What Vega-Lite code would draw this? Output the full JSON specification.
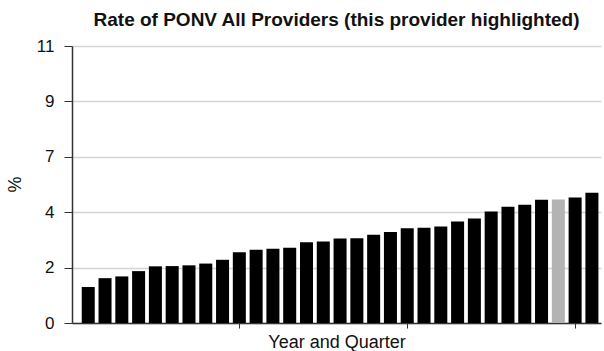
{
  "$schema": "https://vega.github.io/schema/vega-lite/v6.json",
  "autosize": {"type": "none"},
  "padding": {"left": 72, "top": 46, "right": 3, "bottom": 28},
  "width": 529,
  "height": 277,
  "background": "white",
  "title": {
    "text": "Rate of PONV All Providers (this provider highlighted)",
    "font": "Liberation Sans",
    "fontSize": 19,
    "fontWeight": "bold",
    "color": "#111111",
    "anchor": "middle",
    "frame": "group",
    "baseline": "alphabetic",
    "offset": 16,
    "dy": 24
  },
  "data": {
    "values": [
      {"period": 1, "rate": 1.43, "group": "Other providers"},
      {"period": 2, "rate": 1.78, "group": "Other providers"},
      {"period": 3, "rate": 1.85, "group": "Other providers"},
      {"period": 4, "rate": 2.06, "group": "Other providers"},
      {"period": 5, "rate": 2.25, "group": "Other providers"},
      {"period": 6, "rate": 2.26, "group": "Other providers"},
      {"period": 7, "rate": 2.29, "group": "Other providers"},
      {"period": 8, "rate": 2.36, "group": "Other providers"},
      {"period": 9, "rate": 2.51, "group": "Other providers"},
      {"period": 10, "rate": 2.81, "group": "Other providers"},
      {"period": 11, "rate": 2.91, "group": "Other providers"},
      {"period": 12, "rate": 2.95, "group": "Other providers"},
      {"period": 13, "rate": 2.99, "group": "Other providers"},
      {"period": 14, "rate": 3.21, "group": "Other providers"},
      {"period": 15, "rate": 3.24, "group": "Other providers"},
      {"period": 16, "rate": 3.36, "group": "Other providers"},
      {"period": 17, "rate": 3.37, "group": "Other providers"},
      {"period": 18, "rate": 3.5, "group": "Other providers"},
      {"period": 19, "rate": 3.61, "group": "Other providers"},
      {"period": 20, "rate": 3.76, "group": "Other providers"},
      {"period": 21, "rate": 3.78, "group": "Other providers"},
      {"period": 22, "rate": 3.83, "group": "Other providers"},
      {"period": 23, "rate": 4.03, "group": "Other providers"},
      {"period": 24, "rate": 4.15, "group": "Other providers"},
      {"period": 25, "rate": 4.43, "group": "Other providers"},
      {"period": 26, "rate": 4.62, "group": "Other providers"},
      {"period": 27, "rate": 4.7, "group": "Other providers"},
      {"period": 28, "rate": 4.89, "group": "Other providers"},
      {"period": 29, "rate": 4.9, "group": "This provider"},
      {"period": 30, "rate": 4.98, "group": "Other providers"},
      {"period": 31, "rate": 5.17, "group": "Other providers"}
    ]
  },
  "mark": {"type": "bar"},
  "encoding": {
    "x": {
      "field": "period",
      "type": "ordinal",
      "sort": "ascending",
      "scale": {"paddingInner": 0.225, "paddingOuter": 0.367, "align": 0.79},
      "axis": {
        "title": "Year and Quarter",
        "titleFont": "Liberation Sans",
        "titleFontSize": 18,
        "titleFontWeight": "normal",
        "titleColor": "#111111",
        "titleBaseline": "alphabetic",
        "titleY": 24,
        "labels": false,
        "values": [10, 20, 30],
        "ticks": true,
        "tickSize": 5,
        "tickColor": "#333333",
        "domainColor": "#333333",
        "domainWidth": 1.5,
        "grid": false
      }
    },
    "y": {
      "field": "rate",
      "type": "quantitative",
      "scale": {"domain": [0, 11], "nice": false},
      "axis": {
        "title": "%",
        "titleFont": "Liberation Sans",
        "titleFontSize": 18,
        "titleFontWeight": "normal",
        "titleColor": "#111111",
        "titleAngle": -90,
        "titleAlign": "center",
        "titleBaseline": "middle",
        "titleX": -57,
        "titleY": 138,
        "values": [0, 2.2, 4.4, 6.6, 8.8, 11],
        "format": ".0f",
        "labelFont": "Liberation Sans",
        "labelFontSize": 17,
        "labelColor": "#111111",
        "labelPadding": 10,
        "tickSize": 8,
        "tickColor": "#333333",
        "domainColor": "#333333",
        "domainWidth": 1.5,
        "grid": true,
        "gridColor": "#d4d4d4",
        "gridWidth": 1.5
      }
    },
    "color": {
      "field": "group",
      "type": "nominal",
      "scale": {"domain": ["Other providers", "This provider"], "range": ["#000000", "#b3b3b3"]},
      "legend": null
    }
  },
  "config": {
    "view": {"stroke": null},
    "axis": {"labelFont": "Liberation Sans", "titleFont": "Liberation Sans"}
  }
}
